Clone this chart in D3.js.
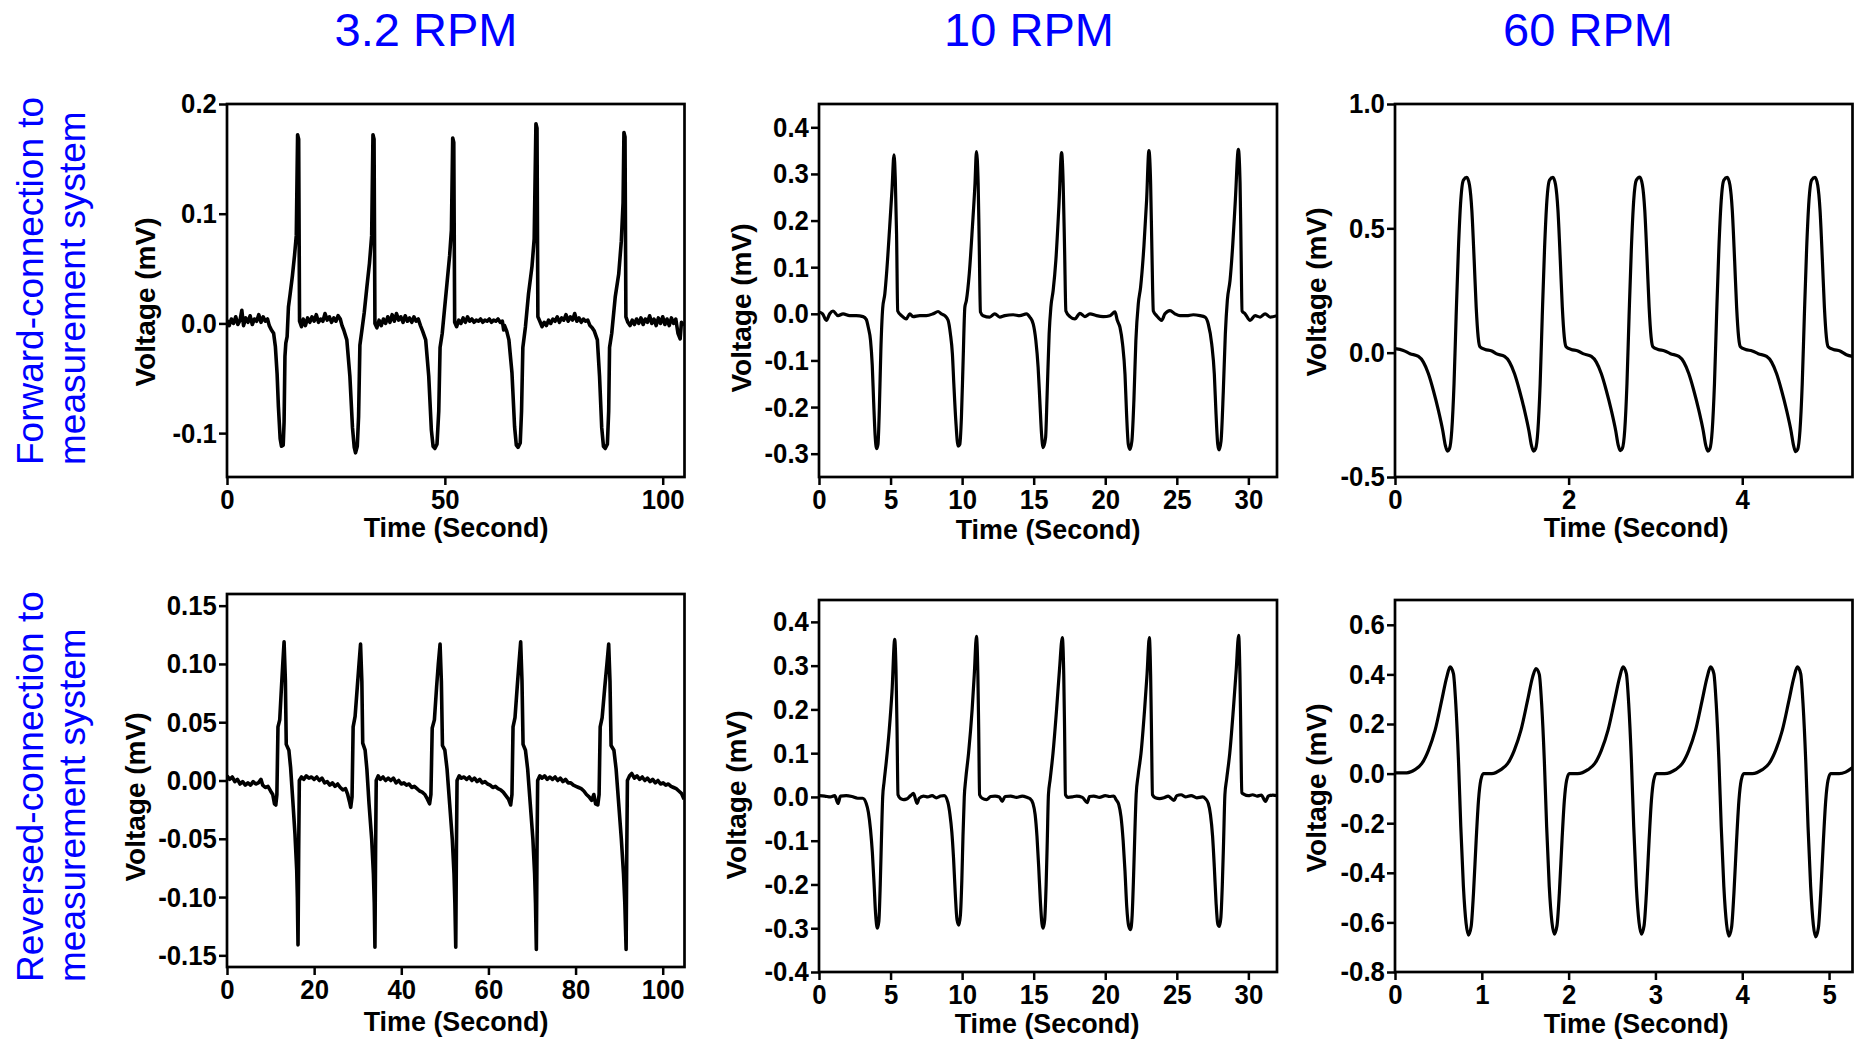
<!DOCTYPE html>
<html lang="en">
<head>
  <meta charset="UTF-8">
  <title>Voltage vs time at 3.2, 10 and 60 RPM</title>
  <script src="https://d3js.org/d3.v7.min.js"></script>
  <style>
    body { margin: 0; background: #fff; }
    svg { display: block; font-family: "Liberation Sans", Arial, sans-serif; }
    .tick text { font-size: 28px; font-weight: bold; fill: #000; }
    .tick line { stroke: #000; stroke-width: 2.5; }
    .domain { display: none; }
    .frame { fill: none; stroke: #000; stroke-width: 2.7; }
    .trace { fill: none; stroke: #000; stroke-width: 3.2; stroke-linejoin: round; }
    .trace.noisy { stroke-width: 3.6; }
    .axis-label { font-size: 28px; font-weight: bold; fill: #000; }
    .col-title { font-size: 47px; fill: #0000ff; }
    .row-label { font-size: 37px; fill: #0000ff; }
  </style>
</head>
<body>
<svg width="1862" height="1042"></svg>

<script>
  // Titres et libellés
  const columnTitles = ["3.2 RPM", "10 RPM", "60 RPM"];
  const rowLabels = [
    ["Forward-connection to", "measurement system"],
    ["Reversed-connection to", "measurement system"]
  ];
  const xLabel = "Time (Second)";
  const yLabel = "Voltage (mV)";

  // Graduations (texte tel qu'affiché)
  const xTicks32 = ["0", "50", "100"];
  const xTicks32b = ["0", "20", "40", "60", "80", "100"];
  const xTicks10 = ["0", "5", "10", "15", "20", "25", "30"];
  const xTicks60 = ["0", "2", "4"];
  const xTicks60b = ["0", "1", "2", "3", "4", "5"];
  const yTicksFwd32 = ["-0.1", "0.0", "0.1", "0.2"];
  const yTicksFwd10 = ["-0.3", "-0.2", "-0.1", "0.0", "0.1", "0.2", "0.3", "0.4"];
  const yTicksFwd60 = ["-0.5", "0.0", "0.5", "1.0"];
  const yTicksRev32 = ["-0.15", "-0.10", "-0.05", "0.00", "0.05", "0.10", "0.15"];
  const yTicksRev10 = ["-0.4", "-0.3", "-0.2", "-0.1", "0.0", "0.1", "0.2", "0.3", "0.4"];
  const yTicksRev60 = ["-0.8", "-0.6", "-0.4", "-0.2", "0.0", "0.2", "0.4", "0.6"];

  // Signaux [temps (s), tension (mV)]
  const fwd32 = [
    [0,0.003],[0.5,-0.002],[1,0.004],[1.5,0],[2,0.006],[2.5,-0.001],[3,0.003],[3.4,0.012],[3.8,-0.002],[4.3,0.005],
    [4.8,0.001],[5.3,0.007],[5.8,-0.001],[6.3,0.004],[6.8,0.002],[7.3,0.008],[7.8,0.001],[8.3,0.006],[8.8,0.002],[9.3,0.004],[9.7,-0.002],
    [10.2,-0.006],[10.7,-0.009],[11.1,-0.021],[11.5,-0.046],[11.8,-0.076],[12.2,-0.105],[12.5,-0.112],[12.9,-0.111],[13.1,-0.09],[13.3,-0.03],
    [13.5,-0.018],[13.8,-0.012],[14.1,0.015],[14.5,0.027],[15.0,0.043],[15.5,0.062],[15.9,0.08],[16.2,0.172],[16.45,0.168],[16.65,0.002],
    [17.1,-0.003],[17.5,0.004],[18,-0.002],[18.5,0.005],[19,0.001],[19.5,0.006],[20,0.002],[20.5,0.008],[21,0.001],[21.5,0.004],
    [22,0.002],[22.5,0.009],[23,0.003],[23.5,0.006],[24,0.001],[24.5,0.005],[25,0.002],[25.5,0.007],[26,0.004],[26.4,-0.002],
    [26.8,-0.006],[27.5,-0.015],[28.2,-0.048],[28.8,-0.095],[29.2,-0.113],[29.5,-0.118],[29.9,-0.112],[30.2,-0.085],[30.5,-0.02],
    [31.0,-0.005],[31.5,0.01],[32.1,0.033],[32.7,0.055],[33.2,0.08],[33.5,0.172],[33.75,0.168],[33.95,0.0],
    [34.4,-0.004],[34.9,0.003],[35.4,-0.002],[35.9,0.004],[36.4,0],[36.9,0.006],[37.4,0.001],[37.9,0.008],[38.4,0.002],[38.9,0.009],
    [39.4,0.003],[39.9,0.006],[40.4,0.001],[40.9,0.007],[41.4,0.002],[41.9,0.005],[42.4,0.001],[42.9,0.006],[43.4,0.002],[43.9,0.004],[44.4,-0.002],
    [44.9,-0.007],[45.6,-0.015],[46.3,-0.048],[46.9,-0.097],[47.3,-0.112],[47.7,-0.114],[48.2,-0.11],[48.6,-0.08],[48.9,-0.022],
    [49.4,-0.009],[49.9,0.012],[50.5,0.037],[51.1,0.062],[51.5,0.085],[51.8,0.169],[52.05,0.165],[52.25,0.001],
    [52.7,-0.003],[53.2,0.003],[53.7,0],[54.2,0.005],[54.7,0.001],[55.2,0.006],[55.7,0.002],[56.2,0.004],[56.7,0.001],[57.2,0.003],
    [57.7,0.002],[58.2,0.004],[58.7,0.001],[59.2,0.003],[59.7,0.002],[60.2,0.004],[60.7,0.001],[61.2,0.003],[61.7,0.002],[62.2,0.004],
    [62.7,0.001],[63.2,0.002],[63.5,-0.006],[63.7,-0.002],
    [64.2,-0.007],[64.7,-0.015],[65.4,-0.045],[66.0,-0.094],[66.4,-0.111],[66.8,-0.113],[67.3,-0.109],[67.6,-0.08],[67.9,-0.022],
    [68.5,-0.003],[69.2,0.027],[70.0,0.052],[70.5,0.077],[70.9,0.182],[71.15,0.178],[71.35,0.006],
    [71.8,0.002],[72.3,-0.003],[72.8,0.001],[73.3,-0.002],[73.8,0.003],[74.3,0],[74.8,0.004],[75.3,0.002],[75.8,0.006],[76.3,0.001],
    [76.8,0.005],[77.3,0.003],[77.8,0.008],[78.3,0.002],[78.8,0.006],[79.3,0.003],[79.8,0.009],[80.3,0.002],[80.8,0.005],[81.3,0.001],
    [81.8,0.004],[82.3,0.002],[82.8,0.003],[83.3,-0.002],[83.8,-0.004],
    [84.3,-0.007],[85.0,-0.015],[85.5,-0.048],[86.0,-0.095],[86.4,-0.112],[86.8,-0.114],[87.3,-0.11],[87.6,-0.08],[87.8,-0.022],
    [88.3,-0.009],[89.1,0.024],[89.9,0.045],[90.5,0.075],[90.9,0.11],[91.1,0.174],[91.35,0.17],[91.55,0.006],
    [92,0.001],[92.5,-0.002],[93,0.003],[93.5,-0.001],[94,0.004],[94.5,0],[95,0.005],[95.5,-0.001],[96,0.004],[96.5,0.001],
    [97,0.007],[97.5,0],[98,0.004],[98.5,-0.002],[99,0.005],[99.5,0],[100,0.006],[100.5,-0.001],[101,0.004],[101.5,-0.002],
    [102,0.005],[102.5,0],[103,0.004],[103.5,-0.009],[104,-0.014],[104.3,0.001],[104.9,-0.002]
  ];

  const fwd10 = [
    [0,0.004],[0.25,0.0],[0.51,-0.014],[0.75,0.0],[0.98,0.006],[1.33,-0.004],[1.68,0.0],[2.14,-0.004],[2.6,-0.004],[3.08,-0.006],
    [3.3,-0.012],[3.45,-0.03],[3.6,-0.057],[3.72,-0.11],[3.82,-0.19],[3.92,-0.26],[4.02,-0.289],[4.12,-0.28],[4.22,-0.2],[4.32,-0.08],
    [4.45,0.012],[4.6,0.043],[4.72,0.086],[4.94,0.187],[5.1,0.266],[5.24,0.341],[5.33,0.29],[5.42,0.17],[5.5,0.006],
    [5.76,-0.004],[6.1,-0.011],[6.34,0.0],[6.57,-0.006],[7.04,-0.004],[7.5,-0.004],[7.97,0.0],[8.32,0.005],[8.55,0.0],[8.79,-0.004],[9.02,-0.014],
    [9.18,-0.043],[9.32,-0.086],[9.42,-0.15],[9.56,-0.23],[9.72,-0.284],[9.84,-0.28],[9.95,-0.223],[10.07,-0.1],[10.19,0.014],
    [10.3,0.029],[10.5,0.086],[10.72,0.187],[10.9,0.28],[11.0,0.348],[11.12,0.28],[11.19,0.158],[11.28,0.004],
    [11.47,-0.004],[11.93,-0.007],[12.28,0.0],[12.63,-0.007],[12.98,-0.004],[13.57,-0.002],[14.03,-0.004],[14.5,0.0],[14.73,-0.007],
    [14.97,-0.022],[15.15,-0.057],[15.31,-0.115],[15.43,-0.187],[15.55,-0.258],[15.66,-0.287],[15.83,-0.266],[15.94,-0.172],[16.08,-0.043],
    [16.2,0.014],[16.36,0.05],[16.55,0.115],[16.76,0.23],[16.95,0.346],[17.06,0.28],[17.16,0.136],[17.25,0.006],
    [17.53,-0.006],[17.88,-0.011],[18.23,0.001],[18.58,-0.006],[18.93,0.0],[19.39,-0.004],[19.86,-0.006],[20.33,-0.004],[20.68,0.004],[20.84,-0.014],
    [21.03,-0.029],[21.21,-0.065],[21.38,-0.13],[21.49,-0.215],[21.61,-0.28],[21.72,-0.291],[21.86,-0.273],[22.0,-0.187],[22.14,-0.057],
    [22.31,0.022],[22.47,0.057],[22.7,0.144],[22.89,0.244],[23.05,0.35],[23.17,0.28],[23.26,0.136],[23.36,0.006],
    [23.59,-0.004],[23.94,-0.014],[24.17,0.0],[24.52,0.007],[24.87,0.0],[25.22,-0.004],[25.69,-0.004],[26.15,-0.002],[26.62,-0.004],[26.97,-0.007],
    [27.2,-0.022],[27.44,-0.065],[27.62,-0.129],[27.74,-0.215],[27.86,-0.28],[27.95,-0.292],[28.09,-0.273],[28.25,-0.165],[28.39,-0.043],
    [28.53,0.029],[28.72,0.072],[28.9,0.144],[29.09,0.244],[29.3,0.353],[29.42,0.28],[29.49,0.136],[29.56,0.006],
    [29.77,0.0],[30.12,-0.014],[30.47,-0.004],[30.82,-0.007],[31.17,0.0],[31.52,-0.007],[32,-0.004]
  ];

  const fwd60 = [
    [0,0.016],[0.096,0.009],
    [0.173,-0.004],[0.27,-0.015],[0.327,-0.038],[0.385,-0.085],[0.442,-0.152],[0.5,-0.232],[0.55,-0.313],[0.58,-0.373],[0.604,-0.396],
    [0.627,-0.387],[0.654,-0.313],[0.68,-0.125],[0.704,0.144],[0.73,0.412],[0.758,0.613],[0.788,0.694],[0.827,0.705],[0.858,0.674],
    [0.885,0.573],[0.912,0.372],[0.935,0.184],[0.958,0.063],[0.98,0.023],[1.038,0.013],[1.115,0.007],
    [1.165,-0.004],[1.262,-0.015],[1.319,-0.038],[1.377,-0.085],[1.434,-0.152],[1.492,-0.232],[1.542,-0.313],[1.572,-0.373],[1.596,-0.396],
    [1.619,-0.387],[1.646,-0.313],[1.672,-0.125],[1.696,0.144],[1.722,0.412],[1.75,0.613],[1.78,0.694],[1.819,0.705],[1.85,0.674],
    [1.877,0.573],[1.904,0.372],[1.927,0.184],[1.95,0.063],[1.972,0.023],[2.03,0.013],[2.107,0.007],
    [2.165,-0.004],[2.262,-0.015],[2.319,-0.038],[2.377,-0.085],[2.434,-0.152],[2.492,-0.232],[2.542,-0.313],[2.572,-0.373],[2.596,-0.394],
    [2.619,-0.385],[2.646,-0.313],[2.672,-0.125],[2.696,0.144],[2.722,0.412],[2.75,0.613],[2.78,0.694],[2.819,0.706],[2.85,0.674],
    [2.877,0.573],[2.904,0.372],[2.927,0.184],[2.95,0.063],[2.972,0.023],[3.03,0.013],[3.107,0.007],
    [3.173,-0.004],[3.27,-0.015],[3.327,-0.038],[3.385,-0.085],[3.442,-0.152],[3.5,-0.232],[3.55,-0.313],[3.58,-0.373],[3.604,-0.396],
    [3.627,-0.387],[3.654,-0.313],[3.68,-0.125],[3.704,0.144],[3.73,0.412],[3.758,0.613],[3.788,0.694],[3.827,0.705],[3.858,0.674],
    [3.885,0.573],[3.912,0.372],[3.935,0.184],[3.958,0.063],[3.98,0.023],[4.038,0.013],[4.115,0.007],
    [4.184,-0.004],[4.281,-0.015],[4.338,-0.038],[4.396,-0.085],[4.453,-0.152],[4.511,-0.232],[4.561,-0.313],[4.591,-0.373],[4.615,-0.398],
    [4.638,-0.389],[4.665,-0.313],[4.691,-0.125],[4.715,0.144],[4.741,0.412],[4.769,0.613],[4.799,0.694],[4.838,0.705],[4.869,0.674],
    [4.896,0.573],[4.923,0.372],[4.946,0.184],[4.969,0.063],[4.991,0.023],[5.049,0.013],[5.126,0.007],[5.2,-0.008],[5.27,-0.015]
  ];

  const rev32 = [
    [0,0.004],[0.6,0.001],[1.2,0.003],[1.8,-0.001],[2.4,0.001],[3,-0.003],[3.6,-0.001],[4.2,-0.004],[4.8,-0.002],[5.4,-0.004],
    [6,-0.001],[6.6,-0.003],[7.2,-0.002],[7.8,0.001],[8.2,-0.004],[8.8,-0.006],[9.4,-0.005],[10,-0.009],[10.5,-0.012],[10.9,-0.02],[11.2,-0.021],
    [11.45,-0.012],[11.7,0.046],[12.1,0.052],[12.5,0.08],[12.8,0.1],[13.1,0.119],[13.4,0.086],[13.6,0.031],[14.2,0.026],[14.6,0.011],
    [15.1,-0.017],[15.6,-0.046],[16.0,-0.077],[16.15,-0.1],[16.3,-0.141],[16.45,-0.06],[16.6,0.0],
    [17.1,0.003],[17.6,0.001],[18.2,0.004],[18.8,0.002],[19.4,0.003],[20,0.001],[20.6,0.003],[21.2,0],[21.8,0.002],[22.4,-0.002],
    [23,-0.001],[23.6,-0.004],[24.2,-0.002],[24.8,-0.005],[25.4,-0.003],[26,-0.006],[26.6,-0.008],[27.2,-0.007],[27.7,-0.012],[28.1,-0.018],[28.4,-0.023],
    [28.7,-0.014],[28.95,0.046],[29.4,0.055],[29.9,0.08],[30.3,0.1],[30.65,0.117],[30.95,0.085],[31.15,0.032],[31.7,0.026],[32.1,0.01],
    [32.6,-0.02],[33.2,-0.05],[33.6,-0.08],[33.8,-0.105],[33.95,-0.143],[34.1,-0.06],[34.25,0.0],
    [34.7,0.004],[35.2,0.001],[35.8,0.003],[36.4,0],[37,0.002],[37.6,0],[38.2,0.002],[38.8,-0.002],[39.4,0],[40,-0.003],
    [40.6,-0.002],[41.2,-0.004],[41.8,-0.003],[42.4,-0.006],[43,-0.005],[43.6,-0.007],[44.2,-0.009],[44.8,-0.01],[45.4,-0.012],[46,-0.016],[46.5,-0.02],
    [46.8,-0.012],[47.1,0.045],[47.6,0.052],[48.1,0.08],[48.5,0.1],[48.9,0.117],[49.2,0.085],[49.45,0.03],[50.0,0.026],[50.5,0.01],
    [51.1,-0.02],[51.7,-0.05],[52.1,-0.08],[52.3,-0.105],[52.5,-0.143],[52.65,-0.06],[52.8,0.0],
    [53.3,0.004],[53.8,0.002],[54.4,0.003],[55,0.001],[55.6,0.003],[56.2,0],[56.8,0.002],[57.4,-0.001],[58,0.001],[58.6,-0.002],
    [59.2,-0.001],[59.8,-0.003],[60.4,-0.004],[61,-0.006],[61.6,-0.005],[62.2,-0.007],[62.8,-0.008],[63.4,-0.01],[64,-0.013],[64.6,-0.016],[65.1,-0.021],
    [65.4,-0.012],[65.65,0.046],[66.1,0.054],[66.6,0.08],[67.0,0.1],[67.4,0.119],[67.7,0.086],[67.95,0.031],[68.5,0.026],[69.0,0.01],
    [69.6,-0.02],[70.2,-0.05],[70.6,-0.08],[70.8,-0.105],[71.0,-0.145],[71.15,-0.06],[71.3,0.0],
    [71.8,0.004],[72.3,0.002],[72.9,0.004],[73.5,0.001],[74.1,0.003],[74.7,0.001],[75.3,0.003],[75.9,0],[76.5,0.002],[77.1,-0.001],
    [77.7,0.001],[78.3,-0.002],[78.9,-0.002],[79.5,-0.004],[80.1,-0.005],[80.7,-0.006],[81.3,-0.007],[81.9,-0.009],[82.5,-0.012],[83.1,-0.014],
    [83.7,-0.017],[84.2,-0.012],[84.6,-0.02],[85.1,-0.021],
    [85.4,-0.012],[85.65,0.046],[86.1,0.054],[86.7,0.08],[87.2,0.1],[87.6,0.117],[87.9,0.085],[88.15,0.03],[88.8,0.026],[89.3,0.01],
    [89.9,-0.02],[90.5,-0.05],[91.0,-0.08],[91.3,-0.105],[91.6,-0.145],[91.75,-0.06],[91.9,0.0],
    [92.4,0.004],[92.9,0.006],[93.5,0.002],[94.1,0.004],[94.7,0.001],[95.3,0.003],[95.9,0],[96.5,0.002],[97.1,-0.001],[97.7,0.001],
    [98.3,-0.002],[98.9,0],[99.5,-0.003],[100.1,-0.002],[100.7,-0.004],[101.3,-0.003],[101.9,-0.005],[102.5,-0.006],[103.1,-0.007],
    [103.7,-0.009],[104.3,-0.011],[104.9,-0.016]
  ];

  const rev10 = [
    [0,0.003],[0.4,0.002],[0.8,0],[1.1,0.003],[1.33,-0.015],[1.5,0.002],[1.9,0.003],[2.3,0.001],[2.7,-0.003],[3.05,-0.003],
    [3.3,-0.015],[3.45,-0.035],[3.6,-0.075],[3.73,-0.128],[3.85,-0.2],[3.95,-0.265],[4.08,-0.3],[4.18,-0.285],[4.28,-0.2],[4.36,-0.1],
    [4.45,0.0],[4.55,0.035],[4.7,0.08],[4.9,0.15],[5.1,0.24],[5.29,0.36],[5.38,0.29],[5.45,0.16],[5.52,0.005],
    [5.7,-0.004],[5.9,-0.006],[6.1,-0.005],[6.4,0.003],[6.6,0.008],[6.85,-0.015],[7.0,-0.003],[7.3,0.002],[7.6,0],[7.9,0.003],[8.2,-0.002],[8.5,0.002],[8.75,0.003],
    [9.0,-0.012],[9.15,-0.04],[9.28,-0.08],[9.4,-0.14],[9.52,-0.22],[9.64,-0.28],[9.77,-0.293],[9.88,-0.27],[9.98,-0.19],[10.06,-0.09],
    [10.15,0.0],[10.25,0.04],[10.45,0.1],[10.7,0.2],[10.85,0.28],[11.0,0.367],[11.1,0.28],[11.16,0.15],[11.22,0.005],
    [11.4,-0.003],[11.7,-0.006],[12.0,0.001],[12.3,0.002],[12.6,0],[12.8,-0.01],[13.0,0.001],[13.4,0.002],[13.8,-0.001],[14.2,0.002],[14.6,-0.002],[14.75,-0.004],
    [14.95,-0.015],[15.1,-0.04],[15.23,-0.09],[15.35,-0.16],[15.47,-0.24],[15.58,-0.29],[15.66,-0.3],[15.77,-0.28],[15.87,-0.2],[15.95,-0.1],
    [16.03,0.005],[16.15,0.04],[16.35,0.1],[16.6,0.2],[16.8,0.29],[17.0,0.364],[17.1,0.28],[17.16,0.15],[17.22,0.005],
    [17.4,-0.001],[17.7,0],[18.0,0.002],[18.4,-0.001],[18.74,-0.013],[18.9,0.001],[19.2,0.002],[19.6,-0.001],[20.0,0.003],[20.3,0.001],[20.6,0.002],[20.75,-0.006],
    [20.95,-0.018],[21.1,-0.045],[21.25,-0.1],[21.38,-0.17],[21.5,-0.25],[21.64,-0.295],[21.77,-0.303],[21.88,-0.27],[21.98,-0.18],[22.07,-0.08],
    [22.16,0.005],[22.3,0.05],[22.5,0.1],[22.75,0.2],[22.92,0.28],[23.08,0.364],[23.17,0.28],[23.23,0.15],[23.3,0.005],
    [23.5,-0.002],[23.8,-0.004],[24.1,-0.002],[24.4,0.002],[24.6,-0.003],[24.8,-0.008],[25.0,0.003],[25.3,0.005],[25.6,0],[26.0,0.003],[26.4,-0.002],[26.8,0],[27.0,-0.004],
    [27.2,-0.015],[27.35,-0.04],[27.5,-0.09],[27.62,-0.16],[27.74,-0.24],[27.86,-0.29],[27.97,-0.296],[28.08,-0.275],[28.18,-0.2],[28.27,-0.1],
    [28.36,0.005],[28.48,0.04],[28.7,0.1],[28.95,0.2],[29.15,0.29],[29.32,0.369],[29.41,0.28],[29.47,0.15],[29.54,0.01],
    [29.7,0.006],[30,0.003],[30.3,0.005],[30.6,0.002],[30.9,0.004],[31.2,-0.01],[31.4,0.002],[31.7,0.004],[32,0.003]
  ];

  const rev60 = [
    [0,0.003],[0.135,0.003],
    [0.231,0.016],[0.308,0.04],[0.385,0.094],[0.462,0.175],[0.538,0.295],[0.596,0.389],[0.635,0.43],[0.673,0.403],[0.7,0.282],
    [0.731,0.054],[0.758,-0.215],[0.788,-0.456],[0.819,-0.604],[0.846,-0.651],[0.877,-0.617],[0.904,-0.483],[0.935,-0.268],
    [0.962,-0.107],[0.988,-0.027],[1.019,0.0],[1.115,0.0],
    [1.22,0.016],[1.297,0.04],[1.374,0.094],[1.451,0.175],[1.527,0.295],[1.585,0.389],[1.624,0.423],[1.662,0.4],[1.689,0.282],
    [1.72,0.054],[1.747,-0.215],[1.777,-0.456],[1.808,-0.6],[1.835,-0.647],[1.866,-0.613],[1.893,-0.483],[1.924,-0.268],
    [1.951,-0.107],[1.977,-0.027],[2.008,0.0],[2.104,0.0],
    [2.223,0.016],[2.3,0.04],[2.377,0.094],[2.454,0.175],[2.53,0.295],[2.588,0.389],[2.627,0.43],[2.665,0.403],[2.692,0.282],
    [2.723,0.054],[2.75,-0.215],[2.78,-0.456],[2.811,-0.6],[2.838,-0.647],[2.869,-0.613],[2.896,-0.483],[2.927,-0.268],
    [2.954,-0.107],[2.98,-0.027],[3.011,0.0],[3.107,0.0],
    [3.231,0.016],[3.308,0.04],[3.385,0.094],[3.462,0.175],[3.538,0.295],[3.596,0.389],[3.635,0.43],[3.673,0.403],[3.7,0.282],
    [3.731,0.054],[3.758,-0.215],[3.788,-0.456],[3.819,-0.606],[3.846,-0.655],[3.877,-0.62],[3.904,-0.483],[3.935,-0.268],
    [3.962,-0.107],[3.988,-0.027],[4.019,0.0],[4.115,0.0],
    [4.231,0.016],[4.308,0.04],[4.385,0.094],[4.462,0.175],[4.538,0.295],[4.596,0.389],[4.635,0.43],[4.673,0.403],[4.7,0.282],
    [4.731,0.054],[4.758,-0.215],[4.788,-0.456],[4.819,-0.61],[4.846,-0.658],[4.877,-0.622],[4.904,-0.483],[4.935,-0.268],
    [4.962,-0.107],[4.988,-0.027],[5.019,0.0],[5.115,0.0],[5.19,0.006],[5.27,0.024]
  ];

  // Mise en page des six panneaux (cadre en px, positions des titres d'axe)
  const panels = [
    {data: fwd32, xDom: [0, 105], yDom: [-0.14, 0.2], xT: xTicks32, yT: yTicksFwd32,
     box: [227, 104, 684.5, 477], yLab: [154.5, 302], xLab: [456, 537], noisy: true},
    {data: fwd10, xDom: [0, 32], yDom: [-0.35, 0.45], xT: xTicks10, yT: yTicksFwd10,
     box: [819, 104, 1277, 477], yLab: [751, 308], xLab: [1048, 539], noisy: false},
    {data: fwd60, xDom: [0, 5.27], yDom: [-0.5, 1.0], xT: xTicks60, yT: yTicksFwd60,
     box: [1395, 104, 1852.5, 477], yLab: [1326, 292], xLab: [1636, 537], noisy: false},
    {data: rev32, xDom: [0, 105], yDom: [-0.16, 0.16], xT: xTicks32b, yT: yTicksRev32,
     box: [227, 594, 684.5, 967], yLab: [144.5, 797], xLab: [456, 1031], noisy: true},
    {data: rev10, xDom: [0, 32], yDom: [-0.4, 0.45], xT: xTicks10, yT: yTicksRev10,
     box: [819, 600, 1277, 972], yLab: [746, 795], xLab: [1047, 1033], noisy: false},
    {data: rev60, xDom: [0, 5.27], yDom: [-0.8, 0.7], xT: xTicks60b, yT: yTicksRev60,
     box: [1395, 600, 1852.5, 972], yLab: [1326, 788], xLab: [1636, 1033], noisy: false}
  ];

  const svg = d3.select("svg");

  panels.forEach((p, i) => {
    const [x0, y0, x1, y1] = p.box;
    const x = d3.scaleLinear().domain(p.xDom).range([x0, x1]);
    const y = d3.scaleLinear().domain(p.yDom).range([y1, y0]);

    svg.append("defs").append("clipPath").attr("id", "clip" + i)
      .append("rect").attr("x", x0).attr("y", y0).attr("width", x1 - x0).attr("height", y1 - y0);

    // Axes (chiffres un peu resserrés comme sur l'original)
    svg.append("g")
        .attr("transform", `translate(0,${y1})`)
        .call(d3.axisBottom(x).tickValues(p.xT.map(Number))
          .tickFormat((d, k) => p.xT[k]).tickSize(8).tickSizeOuter(0).tickPadding(4))
        .selectAll(".tick text").attr("transform", "scale(0.92,1)");

    svg.append("g")
        .attr("transform", `translate(${x0},0)`)
        .call(d3.axisLeft(y).tickValues(p.yT.map(Number))
          .tickFormat((d, k) => p.yT[k]).tickSize(8).tickSizeOuter(0).tickPadding(3))
        .selectAll(".tick text").attr("transform", "scale(0.92,1)");

    // Courbe
    const line = d3.line()
        .x(d => x(d[0]))
        .y(d => y(d[1]))
        .curve(p.noisy ? d3.curveLinear : d3.curveMonotoneX);

    svg.append("path")
        .datum(p.data)
        .attr("class", p.noisy ? "trace noisy" : "trace")
        .attr("clip-path", `url(#clip${i})`)
        .attr("d", line);

    // Cadre
    svg.append("rect")
        .attr("class", "frame")
        .attr("x", x0).attr("y", y0)
        .attr("width", x1 - x0).attr("height", y1 - y0);

    svg.append("text")
        .attr("class", "axis-label")
        .attr("text-anchor", "middle")
        .attr("transform", `translate(${p.yLab[0]},${p.yLab[1]}) rotate(-90)`)
        .text(yLabel);

    svg.append("text")
        .attr("class", "axis-label")
        .attr("text-anchor", "middle")
        .attr("transform", `translate(${p.xLab[0]},${p.xLab[1]}) scale(0.96,1)`)
        .text(xLabel);
  });

  // Titres de colonnes
  const titleX = [426, 1029, 1588];
  columnTitles.forEach((t, i) => {
    svg.append("text")
      .attr("class", "col-title")
      .attr("text-anchor", "middle")
      .attr("x", titleX[i]).attr("y", 46)
      .text(t);
  });

  // Libellés de lignes
  const rowStart = [465, 982];
  const lineX = [43, 85];
  rowLabels.forEach((lines, r) => {
    lines.forEach((t, k) => {
      svg.append("text")
        .attr("class", "row-label")
        .attr("text-anchor", "start")
        .attr("transform", `translate(${lineX[k]},${rowStart[r]}) rotate(-90)`)
        .text(t);
    });
  });
</script>

</body>
</html>
